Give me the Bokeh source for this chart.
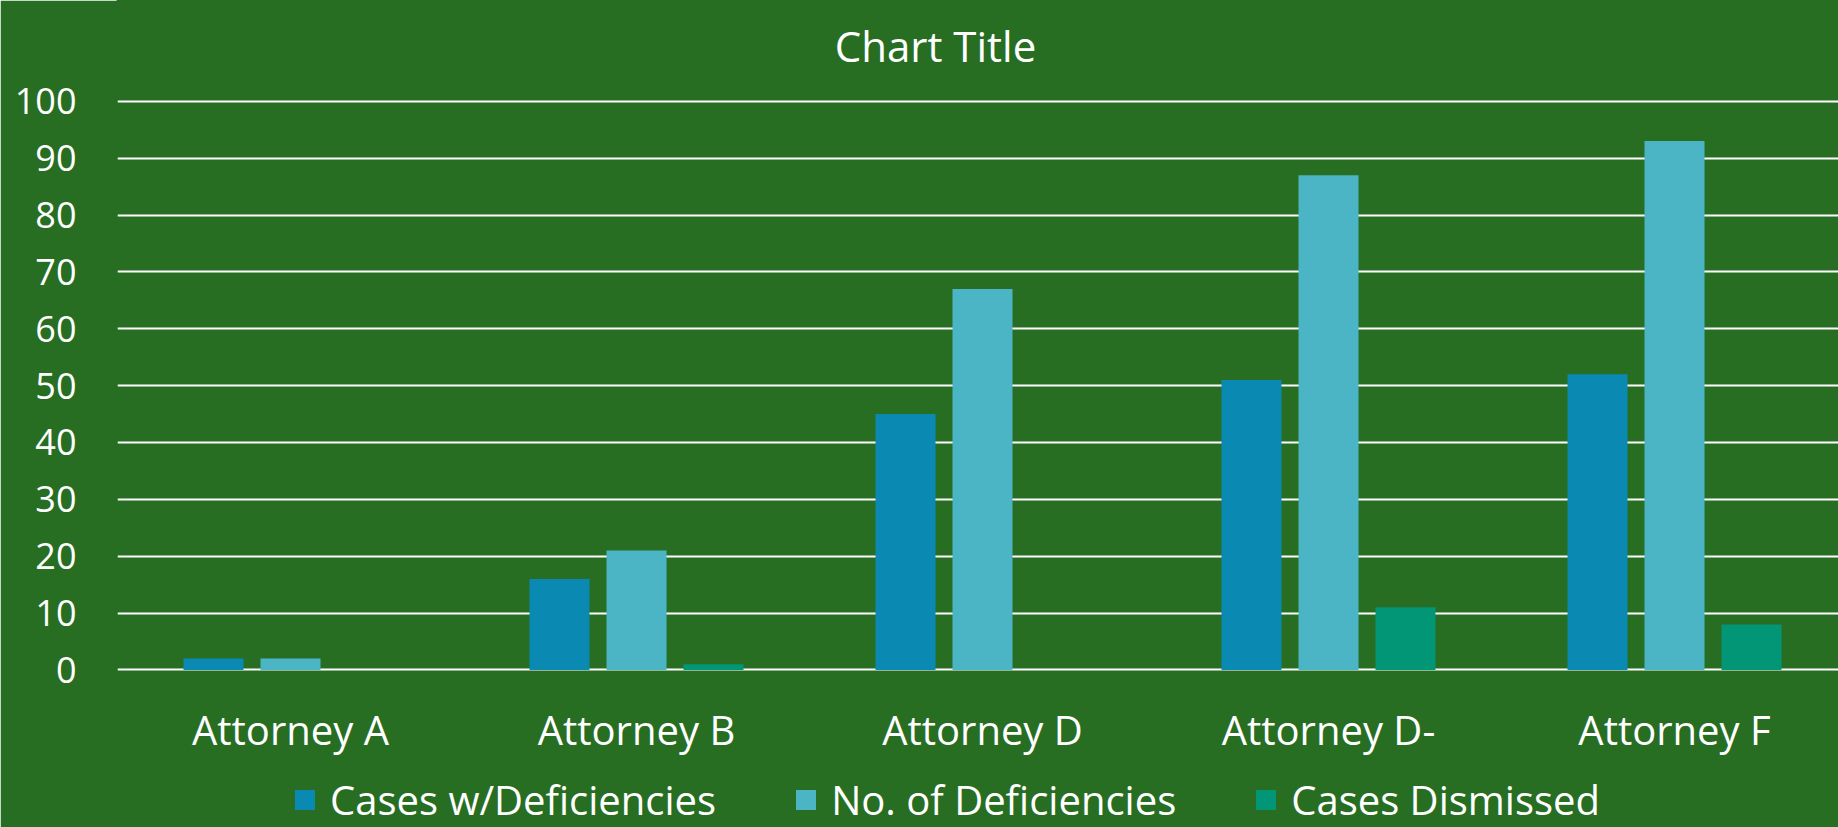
from bokeh.plotting import figure
from bokeh.models import ColumnDataSource, Range1d, FixedTicker, Label
from bokeh.embed import file_html
from bokeh.resources import INLINE

# ---- data ----
categories = ["Attorney A", "Attorney B", "Attorney D", "Attorney D-", "Attorney F"]
cases_w_deficiencies = [2, 16, 45, 51, 52]
num_deficiencies = [2, 21, 67, 87, 93]
cases_dismissed = [0, 1, 0, 11, 8]
series_names = ["Cases w/Deficiencies", "No. of Deficiencies", "Cases Dismissed"]
series_colors = ["#0a89b3", "#4bb5c6", "#029677"]
y_ticks = list(range(0, 101, 10))
chart_title = "Chart Title"

BG = "#276e23"
FONT = "Open Sans"
CAT_PX = 346.0          # pixel width of one category
BAR_W = 60.0 / CAT_PX
OFFS = 77.0 / CAT_PX

p = figure(width=1838, height=827, output_backend="svg", toolbar_location=None, tools="",
           x_range=Range1d(0, 1721 / CAT_PX), y_range=Range1d(-27.717, 117.73),
           min_border_left=117, min_border_right=0, min_border_top=0, min_border_bottom=0,
           background_fill_color=BG, border_fill_color=BG,
           outline_line_color=BG, outline_line_width=2)

centers = [i + 0.5 for i in range(len(categories))]
all_vals = [cases_w_deficiencies, num_deficiencies, cases_dismissed]
for k, (vals, name, col) in enumerate(zip(all_vals, series_names, series_colors)):
    src = ColumnDataSource(dict(x=[c + (k - 1) * OFFS for c in centers], top=vals))
    p.vbar(x="x", top="top", bottom=0, width=BAR_W, source=src, fill_color=col,
           line_color=None, legend_label=name)

# grid
p.xgrid.grid_line_color = None
p.ygrid.ticker = FixedTicker(ticks=y_ticks)
p.ygrid.grid_line_color = "white"
p.ygrid.grid_line_width = 1.8

# y axis
p.yaxis.ticker = FixedTicker(ticks=y_ticks)
p.yaxis.axis_line_color = None
p.yaxis.major_tick_line_color = None
p.yaxis.minor_tick_line_color = None
p.yaxis.major_tick_out = 0
p.yaxis.major_tick_in = 0
p.yaxis.major_label_standoff = 41
p.yaxis.major_label_text_font = FONT
p.yaxis.major_label_text_font_size = "36px"
p.yaxis.major_label_text_color = "white"

# x axis, drawn at the zero line
p.xaxis.fixed_location = 0
p.xaxis.ticker = FixedTicker(ticks=centers)
p.xaxis.major_label_overrides = {c: name for c, name in zip(centers, categories)}
p.xaxis.axis_line_color = None
p.xaxis.major_tick_line_color = None
p.xaxis.minor_tick_line_color = None
p.xaxis.major_tick_out = 0
p.xaxis.major_tick_in = 0
p.xaxis.major_label_standoff = 32
p.xaxis.major_label_text_font = FONT
p.xaxis.major_label_text_font_size = "40px"
p.xaxis.major_label_text_color = "white"

# legend at the bottom of the chart
leg = p.legend[0]
leg.orientation = "horizontal"
leg.location = (175, 0)
leg.padding = 0
leg.margin = 0
leg.spacing = 77
leg.border_line_color = None
leg.background_fill_alpha = 0
leg.glyph_width = 25
leg.glyph_height = 25
leg.label_standoff = 13
leg.label_text_font = FONT
leg.label_text_font_size = "40px"
leg.label_text_color = "white"

# chart title, drawn at the top of the canvas
title = Label(x=818, y=782, x_units="screen", y_units="screen", text=chart_title,
              text_align="center", text_baseline="alphabetic", text_font=FONT,
              text_font_size="42px", text_color="white")
p.add_layout(title)

open("out.html", "w").write(file_html(p, INLINE))
